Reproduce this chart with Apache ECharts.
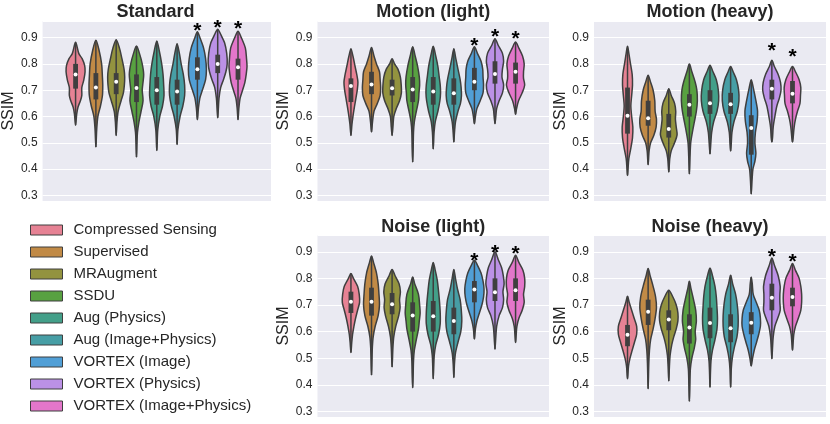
<!DOCTYPE html>
<html><head><meta charset="utf-8">
<script src="https://cdn.jsdelivr.net/npm/echarts@6/dist/echarts.min.js"></script>
<style>html,body{margin:0;padding:0;background:#fff}#c{width:830px;height:424px}</style>
</head><body><div id="c"></div>
<script>
// ---------------- data ----------------
const methods = ['Compressed Sensing','Supervised','MRAugment','SSDU','Aug (Physics)','Aug (Image+Physics)','VORTEX (Image)','VORTEX (Physics)','VORTEX (Image+Physics)'];
const colors = ['#e68294','#c18a46','#93933f','#58a141','#439f89','#479ea5','#519fd6','#bb91e6','#e376ca'];
const panelTitles = ['Standard','Motion (light)','Motion (heavy)','Noise (light)','Noise (heavy)'];
const yLabel = 'SSIM';
const yMin = 0.279, yMax = 0.963;

// violin profiles: [SSIM, density] from top tip to bottom tip (density on a 0-60 scale)
const standardProfiles = [
  [[0.882,0],[0.839,20],[0.82,40],[0.795,55],[0.77,58],[0.738,50],[0.71,38],[0.68,38],[0.661,30],[0.636,15],[0.61,7],[0.567,0]],
  [[0.89,0],[0.85,20],[0.80,35],[0.75,40],[0.72,42],[0.68,40],[0.64,28],[0.60,12],[0.55,5],[0.484,0]],
  [[0.892,0],[0.86,20],[0.82,35],[0.78,48],[0.75,52],[0.72,50],[0.69,44],[0.66,30],[0.62,12],[0.58,5],[0.528,0]],
  [[0.868,0],[0.84,18],[0.80,35],[0.76,44],[0.72,38],[0.70,35],[0.66,40],[0.62,28],[0.58,15],[0.54,6],[0.50,3],[0.446,0]],
  [[0.887,0],[0.85,15],[0.80,30],[0.76,38],[0.72,42],[0.68,44],[0.64,35],[0.60,18],[0.55,6],[0.471,0]],
  [[0.877,0],[0.84,14],[0.80,25],[0.76,38],[0.72,46],[0.68,46],[0.64,35],[0.60,18],[0.55,5],[0.494,0]],
  [[0.922,0],[0.90,15],[0.86,38],[0.82,50],[0.78,55],[0.74,50],[0.70,30],[0.67,15],[0.63,6],[0.588,0]],
  [[0.932,0],[0.91,20],[0.88,42],[0.84,55],[0.80,58],[0.77,50],[0.74,35],[0.71,18],[0.67,8],[0.63,4],[0.595,0]],
  [[0.924,0],[0.90,20],[0.86,45],[0.82,52],[0.79,55],[0.76,50],[0.73,42],[0.70,28],[0.67,13],[0.63,5],[0.588,0]]
];
// [q1, median, q3]
const standardBoxes = [[0.706,0.76,0.80],[0.665,0.71,0.765],[0.685,0.732,0.765],[0.655,0.708,0.76],[0.645,0.70,0.75],[0.645,0.695,0.74],[0.74,0.78,0.825],[0.765,0.80,0.835],[0.74,0.787,0.82]];
const standardStars = [null,null,null,null,null,null,0.941,0.950,0.947];

const motionLightProfiles = [
  [[0.858,0],[0.83,12],[0.79,25],[0.76,35],[0.73,42],[0.70,38],[0.67,30],[0.64,22],[0.60,12],[0.57,6],[0.528,0]],
  [[0.862,0],[0.83,15],[0.80,30],[0.77,48],[0.74,52],[0.71,55],[0.68,52],[0.65,35],[0.62,15],[0.58,6],[0.541,0]],
  [[0.82,0],[0.80,15],[0.78,35],[0.75,50],[0.72,55],[0.69,56],[0.66,45],[0.63,25],[0.60,10],[0.56,5],[0.528,0]],
  [[0.865,0],[0.83,15],[0.79,30],[0.75,40],[0.72,42],[0.69,38],[0.66,35],[0.62,22],[0.58,10],[0.54,5],[0.48,3],[0.427,0]],
  [[0.867,0],[0.83,15],[0.79,28],[0.75,36],[0.72,42],[0.69,44],[0.66,40],[0.62,28],[0.58,12],[0.54,5],[0.477,0]],
  [[0.858,0],[0.82,12],[0.78,25],[0.74,38],[0.71,44],[0.68,46],[0.65,40],[0.62,25],[0.58,10],[0.54,4],[0.503,0]],
  [[0.865,0],[0.84,18],[0.81,40],[0.78,50],[0.75,52],[0.72,55],[0.69,52],[0.66,35],[0.63,15],[0.60,6],[0.573,0]],
  [[0.896,0],[0.87,20],[0.84,45],[0.81,52],[0.78,45],[0.75,42],[0.72,52],[0.69,45],[0.66,25],[0.63,10],[0.60,5],[0.573,0]],
  [[0.883,0],[0.86,20],[0.83,42],[0.80,52],[0.77,48],[0.745,48],[0.72,55],[0.69,40],[0.66,18],[0.63,6],[0.608,0]]
];
const motionLightBoxes = [[0.655,0.716,0.745],[0.685,0.722,0.77],[0.68,0.707,0.74],[0.655,0.703,0.75],[0.645,0.695,0.75],[0.645,0.688,0.745],[0.70,0.732,0.785],[0.725,0.762,0.81],[0.725,0.77,0.805]];
const motionLightStars = [null,null,null,null,null,null,0.884,0.915,0.909];

const motionHeavyProfiles = [
  [[0.867,0],[0.84,8],[0.80,18],[0.76,28],[0.72,30],[0.68,25],[0.64,20],[0.60,25],[0.56,32],[0.52,30],[0.48,20],[0.44,8],[0.40,3],[0.376,0]],
  [[0.757,0],[0.73,15],[0.70,30],[0.66,40],[0.62,42],[0.59,50],[0.56,48],[0.53,35],[0.50,15],[0.47,6],[0.417,0]],
  [[0.706,0],[0.68,15],[0.65,35],[0.62,42],[0.59,40],[0.56,45],[0.53,50],[0.50,35],[0.47,15],[0.44,6],[0.389,0]],
  [[0.80,0],[0.77,15],[0.73,35],[0.70,45],[0.66,48],[0.62,42],[0.58,30],[0.54,18],[0.50,8],[0.45,4],[0.382,0]],
  [[0.795,0],[0.77,18],[0.74,38],[0.70,50],[0.66,52],[0.62,42],[0.58,22],[0.54,10],[0.50,5],[0.458,0]],
  [[0.79,0],[0.77,15],[0.74,35],[0.70,48],[0.66,50],[0.62,40],[0.58,20],[0.54,8],[0.50,4],[0.469,0]],
  [[0.74,0],[0.71,12],[0.66,28],[0.62,38],[0.58,35],[0.54,25],[0.50,22],[0.46,28],[0.43,22],[0.40,10],[0.36,5],[0.306,0]],
  [[0.814,0],[0.79,15],[0.76,38],[0.73,52],[0.70,55],[0.67,45],[0.64,30],[0.60,18],[0.56,8],[0.52,4],[0.503,0]],
  [[0.79,0],[0.77,18],[0.74,40],[0.71,50],[0.68,48],[0.65,45],[0.62,30],[0.59,18],[0.56,10],[0.52,4],[0.503,0]]
];
const motionHeavyBoxes = [[0.535,0.603,0.71],[0.565,0.593,0.66],[0.52,0.553,0.61],[0.60,0.645,0.685],[0.61,0.65,0.70],[0.61,0.647,0.69],[0.455,0.556,0.605],[0.665,0.706,0.74],[0.65,0.687,0.735]];
const motionHeavyStars = [null,null,null,null,null,null,null,0.865,0.842];

const noiseLightProfiles = [
  [[0.818,0],[0.80,15],[0.77,40],[0.74,50],[0.71,52],[0.68,40],[0.65,28],[0.62,18],[0.59,10],[0.56,5],[0.521,0]],
  [[0.884,0],[0.86,12],[0.82,30],[0.78,40],[0.74,45],[0.70,48],[0.66,40],[0.62,22],[0.58,10],[0.54,5],[0.50,3],[0.437,0]],
  [[0.833,0],[0.81,18],[0.78,42],[0.75,50],[0.72,45],[0.69,48],[0.66,40],[0.62,22],[0.58,10],[0.54,5],[0.467,0]],
  [[0.805,0],[0.78,12],[0.74,35],[0.70,42],[0.67,45],[0.64,40],[0.61,35],[0.57,22],[0.53,10],[0.49,5],[0.44,3],[0.389,0]],
  [[0.86,0],[0.83,12],[0.79,25],[0.75,32],[0.71,38],[0.67,42],[0.63,42],[0.59,32],[0.55,15],[0.51,6],[0.47,3],[0.423,0]],
  [[0.833,0],[0.80,10],[0.76,22],[0.72,38],[0.68,45],[0.64,48],[0.60,42],[0.56,25],[0.52,10],[0.48,4],[0.427,0]],
  [[0.868,0],[0.85,18],[0.82,40],[0.79,52],[0.76,58],[0.73,55],[0.70,45],[0.67,30],[0.64,15],[0.61,6],[0.572,0]],
  [[0.90,0],[0.87,20],[0.84,40],[0.81,50],[0.78,55],[0.75,48],[0.72,52],[0.69,45],[0.66,25],[0.62,10],[0.58,5],[0.534,0]],
  [[0.887,0],[0.86,20],[0.83,45],[0.80,55],[0.77,55],[0.74,48],[0.71,52],[0.68,40],[0.65,20],[0.62,8],[0.59,4],[0.559,0]]
];
const noiseLightBoxes = [[0.67,0.712,0.75],[0.66,0.712,0.765],[0.665,0.703,0.745],[0.60,0.66,0.71],[0.60,0.658,0.715],[0.59,0.64,0.69],[0.71,0.758,0.79],[0.715,0.748,0.80],[0.715,0.755,0.80]];
const noiseLightStars = [null,null,null,null,null,null,0.881,0.910,0.904];

const noiseHeavyProfiles = [
  [[0.733,0],[0.71,10],[0.68,25],[0.65,40],[0.62,55],[0.59,55],[0.56,42],[0.53,28],[0.50,15],[0.47,6],[0.423,0]],
  [[0.837,0],[0.81,12],[0.77,30],[0.73,45],[0.69,50],[0.65,42],[0.61,30],[0.57,15],[0.53,8],[0.48,4],[0.385,0]],
  [[0.755,0],[0.73,25],[0.70,45],[0.67,55],[0.64,55],[0.61,45],[0.58,30],[0.55,18],[0.51,8],[0.47,4],[0.414,0]],
  [[0.789,0],[0.76,10],[0.72,25],[0.68,38],[0.64,42],[0.60,35],[0.57,38],[0.54,30],[0.50,15],[0.46,6],[0.40,3],[0.338,0]],
  [[0.839,0],[0.81,15],[0.77,30],[0.73,38],[0.69,42],[0.65,45],[0.61,42],[0.57,30],[0.53,15],[0.49,6],[0.45,3],[0.391,0]],
  [[0.812,0],[0.78,12],[0.74,30],[0.70,40],[0.66,45],[0.62,45],[0.58,38],[0.54,22],[0.50,10],[0.46,4],[0.391,0]],
  [[0.805,0],[0.78,6],[0.74,12],[0.71,30],[0.68,48],[0.65,55],[0.62,55],[0.59,45],[0.56,32],[0.53,18],[0.50,8],[0.471,0]],
  [[0.877,0],[0.85,15],[0.81,38],[0.77,50],[0.74,48],[0.71,48],[0.68,50],[0.65,35],[0.62,18],[0.58,8],[0.54,4],[0.498,0]],
  [[0.856,0],[0.83,18],[0.80,40],[0.77,50],[0.74,55],[0.71,55],[0.68,50],[0.65,35],[0.62,18],[0.59,8],[0.56,4],[0.53,0]]
];
const noiseHeavyBoxes = [[0.545,0.588,0.625],[0.625,0.675,0.72],[0.605,0.645,0.68],[0.555,0.615,0.665],[0.575,0.632,0.69],[0.56,0.613,0.665],[0.59,0.633,0.673],[0.68,0.727,0.78],[0.695,0.73,0.765]];
const noiseHeavyStars = [null,null,null,null,null,null,null,0.896,0.875];

// ---------------- layout / styling ----------------
const panelProfiles = [standardProfiles, motionLightProfiles, motionHeavyProfiles, noiseLightProfiles, noiseHeavyProfiles];
const panelBoxes = [standardBoxes, motionLightBoxes, motionHeavyBoxes, noiseLightBoxes, noiseHeavyBoxes];
const panelStars = [standardStars, motionLightStars, motionHeavyStars, noiseLightStars, noiseHeavyStars];
const grids = [
  {left:40, top:21, width:231, height:180},
  {left:317.5, top:21, width:231.5, height:180},
  {left:594, top:21, width:232, height:180},
  {left:317.5, top:235, width:231.5, height:182},
  {left:594, top:235, width:232, height:182}
];
const titleTops = [3, 3, 3, 218, 218];
const FONT = 'Liberation Sans, Arial, sans-serif';
const EDGE = '#3f3f3f';
const DODGE = 0.8, N = methods.length, SLOT = DODGE / N, DENS_FULL = 62;

function centerOf(i){ return -DODGE/2 + (i + 0.5) * SLOT; }

function makeRender(prof, box, star, xc, color){
  return function(params, api){
    const hw = d => d / DENS_FULL * SLOT / 2;
    const pts = [];
    const last = prof.length - 1;
    pts.push(api.coord([xc, prof[0][0]]));
    for (let k = 1; k < last; k++) pts.push(api.coord([xc + hw(prof[k][1]), prof[k][0]]));
    pts.push(api.coord([xc, prof[last][0]]));
    for (let k = last - 1; k >= 1; k--) pts.push(api.coord([xc - hw(prof[k][1]), prof[k][0]]));
    const q1 = api.coord([xc, box[0]]), med = api.coord([xc, box[1]]), q3 = api.coord([xc, box[2]]);
    const top = api.coord([xc, prof[0][0]]), bot = api.coord([xc, prof[last][0]]);
    const children = [
      {type:'polygon', shape:{points:pts, smooth:0.3}, style:{fill:color, stroke:EDGE, lineWidth:1.5}},
      {type:'line', shape:{x1:top[0], y1:top[1], x2:bot[0], y2:bot[1]}, style:{stroke:EDGE, lineWidth:1.5}},
      {type:'rect', shape:{x:med[0]-2.4, y:q3[1], width:4.8, height:q1[1]-q3[1]}, style:{fill:EDGE}},
      {type:'circle', shape:{cx:med[0], cy:med[1], r:2}, style:{fill:'#ffffff'}}
    ];
    if (star != null) {
      const s = api.coord([xc, star]);
      children.push({type:'text', x:s[0], y:s[1] + 4, style:{text:'*', fill:'#000', fontSize:21, fontWeight:'bold', fontFamily:FONT, align:'center', verticalAlign:'middle'}});
    }
    return {type:'group', children};
  };
}

const option = {
  animation:false,
  backgroundColor:'#ffffff',
  title: panelTitles.map((t, p) => ({
    text:t, left: grids[p].left + grids[p].width/2, top: titleTops[p], textAlign:'center', padding:0,
    textStyle:{fontSize:18, fontWeight:'bold', color:'#262626', fontFamily:FONT}
  })),
  legend: {
    data: methods, orient:'vertical', left:30, top:219, padding:0, itemWidth:32, itemHeight:10, itemGap:0,
    icon:'rect', selectedMode:false,
    itemStyle:{borderColor:EDGE, borderWidth:1},
    textStyle:{fontSize:15, color:'#262626', fontFamily:FONT, lineHeight:22, padding:[0,0,0,6]}
  },
  grid: grids.map(g => ({left:g.left, top:g.top, width:g.width, height:g.height, show:true, backgroundColor:'#eaeaf2', borderWidth:0, containLabel:false})),
  xAxis: grids.map((g, p) => ({type:'value', gridIndex:p, min:-0.5, max:0.5, show:false})),
  yAxis: grids.map((g, p) => ({
    type:'value', gridIndex:p, min:yMin, max:yMax,
    name:yLabel, nameLocation:'middle', nameGap:22,
    nameTextStyle:{fontSize:16, color:'#262626', fontFamily:FONT},
    axisLine:{show:false}, axisTick:{show:false},
    axisLabel:{fontSize:12, color:'#262626', fontFamily:FONT, margin:5, showMinLabel:false, showMaxLabel:false,
      formatter: v => (Math.abs(v*10 - Math.round(v*10)) < 1e-6 ? v.toFixed(1) : '')},
    splitLine:{show:true, lineStyle:{color:'#ffffff', width:1.2}}
  })),
  series: []
};

panelProfiles.forEach((profs, p) => {
  methods.forEach((m, i) => {
    const xc = centerOf(i);
    option.series.push({
      type:'custom', name:m, xAxisIndex:p, yAxisIndex:p,
      itemStyle:{color:colors[i]},
      data:[[xc, panelBoxes[p][i][1]]],
      renderItem: makeRender(profs[i], panelBoxes[p][i], panelStars[p][i], xc, colors[i]),
      z:2
    });
  });
});

const chart = echarts.init(document.getElementById('c'), null, {renderer:'canvas'});
chart.setOption(option);
</script>
</body></html>
